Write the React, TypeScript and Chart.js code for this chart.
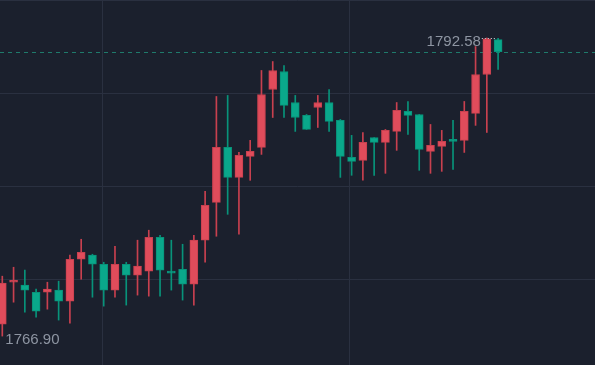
import React, { useEffect, useRef } from "react";
import { Chart, registerables } from "chart.js";

Chart.register(...registerables);

const opens = [
  1767.93, 1771.54, 1771.29, 1770.68, 1770.68, 1770.86, 1769.91, 1773.52, 1773.87, 1773.09,
  1770.86, 1773.09, 1772.15, 1772.49, 1775.41, 1772.40, 1772.66, 1771.37, 1775.16, 1778.42,
  1783.15, 1780.57, 1782.38, 1783.15, 1788.14, 1789.69, 1787.02, 1785.91, 1786.59, 1787.02,
  1785.48, 1782.29, 1782.04, 1784.01, 1783.58, 1784.53, 1786.25, 1785.99, 1782.81, 1783.24,
  1783.76, 1783.76, 1786.08, 1789.43, 1792.44,
];
const highs = [
  1772.06, 1772.83, 1772.58, 1770.94, 1771.54, 1771.63, 1773.87, 1775.24, 1773.95, 1773.26,
  1774.64, 1773.26, 1775.16, 1776.02, 1775.59, 1775.16, 1774.81, 1775.59, 1779.37, 1787.54,
  1787.63, 1782.72, 1783.76, 1789.78, 1790.55, 1790.21, 1787.63, 1785.99, 1787.63, 1788.14,
  1785.56, 1784.19, 1784.44, 1784.01, 1784.70, 1787.02, 1787.11, 1785.99, 1785.13, 1784.62,
  1785.48, 1787.11, 1791.84, 1792.58, 1792.55,
];
const lows = [
  1766.90, 1769.82, 1768.96, 1768.53, 1769.22, 1768.28, 1768.02, 1771.80, 1770.25, 1769.48,
  1770.25, 1769.57, 1770.43, 1770.34, 1770.34, 1770.86, 1770.00, 1769.57, 1773.26, 1775.50,
  1777.39, 1775.67, 1780.32, 1782.55, 1785.73, 1785.73, 1784.53, 1784.70, 1784.87, 1784.53,
  1780.57, 1780.75, 1780.32, 1780.75, 1780.92, 1782.90, 1784.27, 1781.18, 1780.92, 1781.09,
  1781.26, 1782.72, 1785.05, 1784.44, 1789.86,
];
const closes = [
  1771.46, 1771.58, 1770.86, 1769.05, 1770.94, 1769.91, 1773.52, 1774.12, 1773.09, 1770.86,
  1773.09, 1772.15, 1772.92, 1775.41, 1772.58, 1772.32, 1771.37, 1775.16, 1778.17, 1783.15,
  1780.57, 1782.47, 1782.81, 1787.71, 1789.78, 1786.77, 1785.73, 1784.70, 1787.02, 1785.39,
  1782.38, 1781.95, 1783.58, 1783.58, 1784.62, 1786.34, 1785.91, 1782.98, 1783.33, 1783.67,
  1783.67, 1786.25, 1789.43, 1792.50, 1791.41,
];
const priceGridTicks = [1771.8, 1779.8, 1787.8, 1795.8];
const timeGridTicks = [8.85, 30.85];
const highLabel = "1792.58";
const lowLabel = "1766.90";

const UP = "#e04c5b";
const UP_EDGE = "#c8404f";
const DOWN = "#0aa88b";
const DOWN_EDGE = "#08937a";
const BG = "#1b202d";
const GRID = "#2a3040";

export default function App() {
  const ref = useRef<HTMLCanvasElement | null>(null);

  useEffect(() => {
    document.body.style.margin = "0";
    document.body.style.background = BG;
    if (!ref.current) return;

    const isUp = closes.map((c, i) => c >= opens[i]);
    const bodies = opens.map((o, i) => ({ x: i, y: [o, closes[i]] }));
    const wicks = lows.map((l, i) => ({ x: i, y: [l, highs[i]] }));
    const lastIdx = closes.length - 1;
    const hiIdx = highs.indexOf(Math.max(...highs));
    const loIdx = lows.indexOf(Math.min(...lows));

    const overlay = {
      id: "overlay",
      beforeDatasetsDraw(chart: any) {
        const { ctx, chartArea, scales } = chart;
        const y = Math.round(scales.y.getPixelForValue(closes[lastIdx])) + 0.5;
        ctx.save();
        ctx.strokeStyle = "#1f7a6b";
        ctx.lineWidth = 1;
        ctx.setLineDash([4, 4]);
        ctx.beginPath();
        ctx.moveTo(chartArea.left, y);
        ctx.lineTo(chartArea.right, y);
        ctx.stroke();
        ctx.restore();
      },
      afterDatasetsDraw(chart: any) {
        const { ctx, scales } = chart;
        ctx.save();
        ctx.font = '15px "Liberation Sans", Arial, sans-serif';
        ctx.fillStyle = "#8e95a2";
        ctx.textBaseline = "middle";
        const hx = scales.x.getPixelForValue(hiIdx);
        const hy = scales.y.getPixelForValue(highs[hiIdx]);
        ctx.textAlign = "right";
        ctx.fillText(highLabel, hx - 6, hy + 4);
        ctx.strokeStyle = "#d8dbe0";
        ctx.lineWidth = 1;
        ctx.setLineDash([1, 2]);
        ctx.beginPath();
        ctx.moveTo(hx - 5, Math.round(hy) + 0.5);
        ctx.lineTo(hx + 10, Math.round(hy) + 0.5);
        ctx.stroke();
        const lx = scales.x.getPixelForValue(loIdx);
        const ly = scales.y.getPixelForValue(lows[loIdx]);
        ctx.textAlign = "left";
        ctx.fillStyle = "#8e95a2";
        ctx.fillText(lowLabel, lx + 3, ly + 4);
        ctx.restore();
      },
    };

    const chart = new Chart(ref.current, {
      type: "bar",
      data: {
        datasets: [
          {
            data: bodies as any,
            backgroundColor: isUp.map((u) => (u ? UP : DOWN)),
            borderColor: isUp.map((u) => (u ? UP_EDGE : DOWN_EDGE)),
            borderWidth: 1,
            borderSkipped: false,
            barThickness: 8,
            minBarLength: 2,
            grouped: false,
          } as any,
          {
            data: wicks as any,
            backgroundColor: isUp.map((u) => (u ? UP_EDGE : DOWN_EDGE)),
            borderWidth: 0,
            barThickness: 1,
            grouped: false,
          } as any,
        ],
      },
      options: {
        animation: false,
        responsive: false,
        maintainAspectRatio: false,
        layout: { padding: 0 },
        plugins: { legend: { display: false }, tooltip: { enabled: false } },
        scales: {
          x: {
            type: "linear",
            min: -0.204,
            max: 52.6,
            offset: false,
            border: { display: false },
            ticks: { display: false },
            grid: { color: GRID, drawTicks: false, lineWidth: 1, offset: false },
            afterBuildTicks: (s: any) => {
              s.ticks = timeGridTicks.map((v) => ({ value: v }));
            },
          },
          y: {
            type: "linear",
            min: 1764.41,
            max: 1795.85,
            border: { display: false },
            ticks: { display: false },
            grid: { color: GRID, drawTicks: false, lineWidth: 1 },
            afterBuildTicks: (s: any) => {
              s.ticks = priceGridTicks.map((v) => ({ value: v }));
            },
          },
        },
      },
      plugins: [overlay],
    });
    return () => chart.destroy();
  }, []);

  return (
    <div style={{ width: 595, height: 365, background: BG }}>
      <canvas ref={ref} width={595} height={365} style={{ display: "block" }} />
    </div>
  );
}
